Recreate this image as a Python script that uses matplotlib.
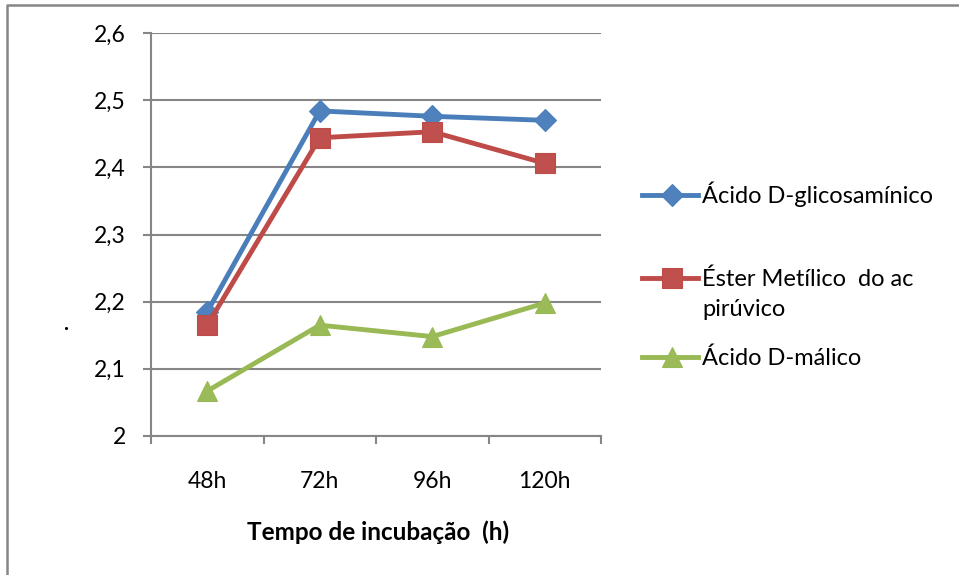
import matplotlib
matplotlib.use("Agg")
import matplotlib.pyplot as plt
from matplotlib.lines import Line2D

plt.rcParams['font.family'] = ['Lato', 'DejaVu Sans']

# --------------------------------------------------------
# Data
# --------------------------------------------------------
tempos = ['48h', '72h', '96h', '120h']
glicosaminico = [2.185, 2.484, 2.476, 2.470]
ester_piruvico = [2.165, 2.444, 2.453, 2.406]
malico = [2.067, 2.165, 2.148, 2.198]

series_labels = ['Ácido D-glicosamínico', 'Éster Metílico  do ac\npirúvico', 'Ácido D-málico']
y_ticks = [2.0, 2.1, 2.2, 2.3, 2.4, 2.5, 2.6]
y_tick_labels = ['2', '2,1', '2,2', '2,3', '2,4', '2,5', '2,6']

line_colors = ['#4A7EBB', '#BE4B48', '#98B954']
fill_colors = ['#4F81BD', '#C0504D', '#9BBB59']
markers = ['D', 's', '^']
sizes = [11.5, 14, 14.5]
grey = '#868686'
fs = 16.5

# --------------------------------------------------------
# Figure and axes
# --------------------------------------------------------
W, H = 959, 575
fig = plt.figure(figsize=(W / 100, H / 100), dpi=100)
ax = fig.add_axes([151 / W, 1 - 436 / H, 450 / W, 403 / H])

x = list(range(len(tempos)))
for vals, lc, fc, m, ms in zip([glicosaminico, ester_piruvico, malico],
                               line_colors, fill_colors, markers, sizes):
    ax.plot(x, vals, color=lc, lw=3.5, marker=m, ms=ms,
            markerfacecolor=fc, markeredgecolor=lc, mew=0.8, zorder=3)

ax.set_ylim(2.0, 2.6)
ax.set_xlim(-0.5, len(tempos) - 0.5)
ax.set_yticks(y_ticks)
ax.set_yticklabels(y_tick_labels, fontsize=fs)
ax.yaxis.grid(True, color=grey, lw=1.5)
ax.set_axisbelow(True)

# category boundaries as major ticks, labels on minor ticks
ax.set_xticks([i - 0.5 for i in range(len(tempos) + 1)])
ax.set_xticklabels([])
ax.set_xticks(x, minor=True)
ax.set_xticklabels(tempos, minor=True, fontsize=fs)
ax.tick_params(axis='x', which='major', length=6, width=1.5, color=grey, direction='out')
ax.tick_params(axis='x', which='minor', length=0, pad=25)
ax.tick_params(axis='y', length=6, width=1.5, color=grey, direction='out', pad=12)

for side in ['top', 'right']:
    ax.spines[side].set_visible(False)
for side in ['left', 'bottom']:
    ax.spines[side].set_color(grey)
    ax.spines[side].set_linewidth(1.5)

fig.text(378 / W, 1 - 532 / H, 'Tempo de incubação  (h)', fontsize=17.5,
         fontweight='bold', ha='center', va='center')

# --------------------------------------------------------
# Legend drawn by hand (handle sits on the first text line)
# --------------------------------------------------------
legend_y = [195, 278, 357]
for lab, yy, lc, fc, m, ms in zip(series_labels, legend_y, line_colors,
                                  fill_colors, markers, sizes):
    fy = 1 - yy / H
    fig.add_artist(Line2D([642 / W, 672 / W, 698 / W], [fy, fy, fy],
                          transform=fig.transFigure, color=lc, lw=3.5,
                          marker=m, ms=ms, markevery=[1],
                          markerfacecolor=fc, markeredgecolor=lc, mew=0.8))
    for i, line in enumerate(lab.split('\n')):
        fig.text(702 / W, 1 - (yy + 8 + 30 * i) / H, line, fontsize=17,
                 ha='left', va='baseline')

# chart frame and stray dot
fig.add_artist(Line2D([7 / W, 7 / W, 1.0], [0.0, 1 - 5 / H, 1 - 5 / H],
                      transform=fig.transFigure, color=grey, lw=1.8))
fig.add_artist(Line2D([66 / W], [1 - 328 / H], transform=fig.transFigure,
                      marker='o', ms=1.2, color='black', lw=0))

plt.savefig("out.png", dpi=100)
